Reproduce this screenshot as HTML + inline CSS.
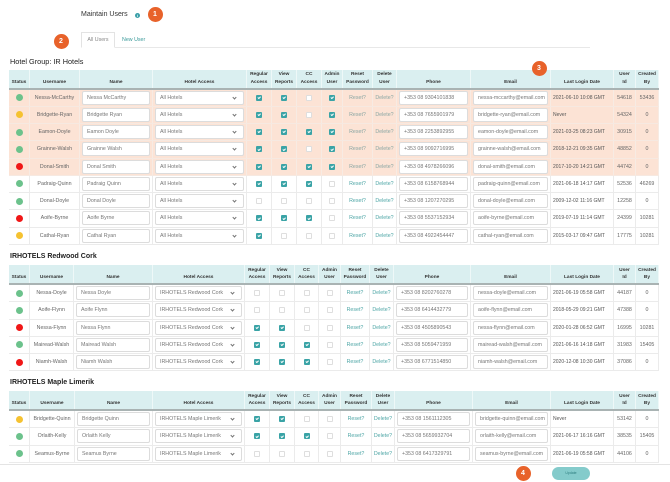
<!DOCTYPE html>
<html><head><meta charset="utf-8">
<style>
*{margin:0;padding:0}
body{width:670px;height:482px;position:relative;overflow:hidden;background:#fff;font-family:"Liberation Sans",sans-serif;}
.abs{position:absolute}
.title{position:absolute;font-size:7px;line-height:8px;color:#222;white-space:nowrap}
.oc{position:absolute;width:15px;height:15px;border-radius:50%;background:#e8622a;color:#fff;font-weight:bold;font-size:7px;display:flex;align-items:center;justify-content:center;z-index:5}
.tbl{position:absolute;left:9px;width:650px}
.h{display:flex;height:20px;background:#daeff0;border-bottom:2px solid #a9b3b3;box-sizing:border-box}
.h>div{flex:none;box-sizing:border-box;border-right:1px solid #eef8f8;display:flex;flex-direction:column;justify-content:flex-end;align-items:center;text-align:center;font-size:4.8px;font-weight:bold;color:#333;line-height:7.5px;padding-bottom:1.5px;white-space:nowrap}
.r{display:flex;height:17.25px;box-sizing:border-box;border-bottom:1px solid #ebebeb}
.r>div{flex:none;box-sizing:border-box;border-right:1px solid #ebebeb;display:flex;align-items:center;justify-content:center;font-size:5.3px;color:#666;overflow:hidden;white-space:nowrap}
.p{background:#fce3d5;border-bottom-color:#f6e9e1}
.p>div{border-right-color:#f7ebe3}
.r>div.l{justify-content:flex-start;padding-left:2px;font-size:5px;color:#555}
.r>div.lk{color:#4ea6a6}
.p>div.lk{color:#8aa6a3}
.in{display:flex;align-items:center;width:calc(100% - 4px);height:14px;background:#fff;border:1px solid #dcdcdc;border-radius:2px;box-sizing:border-box;padding-left:4px;color:#777;overflow:hidden;position:relative}
.sel::after{content:'';position:absolute;right:7px;top:4px;width:2px;height:2px;border:solid #777;border-width:0 0.7px 0.7px 0;transform:rotate(45deg)}
i{display:block}
.cb{width:6px;height:6px;border-radius:1px;box-sizing:border-box;border:1px solid #dedede;background:#fff}
.cb.c{background:#3aa3a6;border-color:#3aa3a6;position:relative}
.cb.c::after{content:'';position:absolute;left:1.2px;top:0.2px;width:1.4px;height:2.4px;border:solid #fff;border-width:0 0.7px 0.7px 0;transform:rotate(45deg)}
.dot{width:7px;height:7px;border-radius:50%}
.g{background:#6cc28c}.y{background:#f5c231}.rd{background:#f01717}
.t1>div>div:nth-child(1){width:21px}.t1>div>div:nth-child(2){width:50px}.t1>div>div:nth-child(3){width:73px}.t1>div>div:nth-child(4){width:94px}.t1>div>div:nth-child(5){width:25px}.t1>div>div:nth-child(6){width:25px}.t1>div>div:nth-child(7){width:25px}.t1>div>div:nth-child(8){width:21px}.t1>div>div:nth-child(9){width:30px}.t1>div>div:nth-child(10){width:24px}.t1>div>div:nth-child(11){width:74px}.t1>div>div:nth-child(12){width:80px}.t1>div>div:nth-child(13){width:63px}.t1>div>div:nth-child(14){width:22px}.t1>div>div:nth-child(15){width:23px}
.t2>div>div:nth-child(1){width:21px}.t2>div>div:nth-child(2){width:44px}.t2>div>div:nth-child(3){width:79px}.t2>div>div:nth-child(4){width:92px}.t2>div>div:nth-child(5){width:25px}.t2>div>div:nth-child(6){width:25px}.t2>div>div:nth-child(7){width:24px}.t2>div>div:nth-child(8){width:22px}.t2>div>div:nth-child(9){width:29px}.t2>div>div:nth-child(10){width:24px}.t2>div>div:nth-child(11){width:77px}.t2>div>div:nth-child(12){width:80px}.t2>div>div:nth-child(13){width:63px}.t2>div>div:nth-child(14){width:22px}.t2>div>div:nth-child(15){width:23px}
.t3>div>div:nth-child(1){width:21px}.t3>div>div:nth-child(2){width:45px}.t3>div>div:nth-child(3){width:78px}.t3>div>div:nth-child(4){width:92px}.t3>div>div:nth-child(5){width:25px}.t3>div>div:nth-child(6){width:25px}.t3>div>div:nth-child(7){width:24px}.t3>div>div:nth-child(8){width:22px}.t3>div>div:nth-child(9){width:31px}.t3>div>div:nth-child(10){width:23px}.t3>div>div:nth-child(11){width:78px}.t3>div>div:nth-child(12){width:78px}.t3>div>div:nth-child(13){width:63px}.t3>div>div:nth-child(14){width:22px}.t3>div>div:nth-child(15){width:23px}
</style></head><body>

<div class="title" style="left:81px;top:11px;color:#333">Maintain Users</div>
<div class="abs" style="left:134.5px;top:12.5px;width:5.5px;height:5.5px;border-radius:50%;background:#3a9fa8;color:#fff;font-size:4px;line-height:5.5px;text-align:center;font-weight:bold">i</div>
<div class="oc" style="left:147.5px;top:7px">1</div>
<div class="oc" style="left:53.5px;top:33.5px">2</div>
<div class="oc" style="left:531.5px;top:60.5px">3</div>
<div class="oc" style="left:515.5px;top:465.5px">4</div>

<div class="abs" style="left:81px;top:47px;width:509px;height:1px;background:#e8e8e8"></div>
<div class="abs" style="left:81px;top:32px;width:34px;height:16px;box-sizing:border-box;border:1px solid #e3e3e3;border-bottom:1px solid #fff;background:#fff;font-size:5.3px;color:#888;text-align:center;line-height:14px">All Users</div>
<div class="abs" style="left:122px;top:32px;font-size:5.3px;color:#3a9a9a;line-height:16px">New User</div>

<div class="title" style="left:10px;top:58px;font-size:7.3px">Hotel Group: IR Hotels</div>

<div class="tbl t1" style="top:69.5px">
<div class="h"><div>Status</div><div>Username</div><div>Name</div><div>Hotel Access</div><div>Regular<br>Access</div><div>View<br>Reports</div><div>CC<br>Access</div><div>Admin<br>User</div><div>Reset<br>Password</div><div>Delete<br>User</div><div>Phone</div><div>Email</div><div>Last Login Date</div><div>User<br>Id</div><div>Created<br>By</div></div>
<div class="r p"><div><i class="dot g"></i></div><div>Nessa-McCarthy</div><div><span class="in">Nessa McCarthy</span></div><div><span class="in sel">All Hotels</span></div><div><i class="cb c"></i></div><div><i class="cb c"></i></div><div><i class="cb"></i></div><div><i class="cb c"></i></div><div class="lk">Reset?</div><div class="lk">Delete?</div><div><span class="in">+353 08 9304101838</span></div><div><span class="in">nessa-mccarthy@email.com</span></div><div class="l">2021-06-10 10:08 GMT</div><div>54618</div><div>53436</div></div>
<div class="r p"><div><i class="dot y"></i></div><div>Bridgette-Ryan</div><div><span class="in">Bridgette Ryan</span></div><div><span class="in sel">All Hotels</span></div><div><i class="cb c"></i></div><div><i class="cb c"></i></div><div><i class="cb"></i></div><div><i class="cb c"></i></div><div class="lk">Reset?</div><div class="lk">Delete?</div><div><span class="in">+353 08 7655901979</span></div><div><span class="in">bridgette-ryan@email.com</span></div><div class="l">Never</div><div>54324</div><div>0</div></div>
<div class="r p"><div><i class="dot g"></i></div><div>Eamon-Doyle</div><div><span class="in">Eamon Doyle</span></div><div><span class="in sel">All Hotels</span></div><div><i class="cb c"></i></div><div><i class="cb c"></i></div><div><i class="cb c"></i></div><div><i class="cb c"></i></div><div class="lk">Reset?</div><div class="lk">Delete?</div><div><span class="in">+353 08 2253892955</span></div><div><span class="in">eamon-doyle@email.com</span></div><div class="l">2021-03-25 08:23 GMT</div><div>30915</div><div>0</div></div>
<div class="r p"><div><i class="dot g"></i></div><div>Grainne-Walsh</div><div><span class="in">Grainne Walsh</span></div><div><span class="in sel">All Hotels</span></div><div><i class="cb c"></i></div><div><i class="cb c"></i></div><div><i class="cb"></i></div><div><i class="cb c"></i></div><div class="lk">Reset?</div><div class="lk">Delete?</div><div><span class="in">+353 08 9092716995</span></div><div><span class="in">grainne-walsh@email.com</span></div><div class="l">2018-12-21 09:35 GMT</div><div>48852</div><div>0</div></div>
<div class="r p"><div><i class="dot rd"></i></div><div>Donal-Smith</div><div><span class="in">Donal Smith</span></div><div><span class="in sel">All Hotels</span></div><div><i class="cb c"></i></div><div><i class="cb c"></i></div><div><i class="cb c"></i></div><div><i class="cb c"></i></div><div class="lk">Reset?</div><div class="lk">Delete?</div><div><span class="in">+353 08 4978266096</span></div><div><span class="in">donal-smith@email.com</span></div><div class="l">2017-10-20 14:21 GMT</div><div>44742</div><div>0</div></div>
<div class="r"><div><i class="dot g"></i></div><div>Padraig-Quinn</div><div><span class="in">Padraig Quinn</span></div><div><span class="in sel">All Hotels</span></div><div><i class="cb c"></i></div><div><i class="cb c"></i></div><div><i class="cb c"></i></div><div><i class="cb"></i></div><div class="lk">Reset?</div><div class="lk">Delete?</div><div><span class="in">+353 08 6158768944</span></div><div><span class="in">padraig-quinn@email.com</span></div><div class="l">2021-06-18 14:17 GMT</div><div>52536</div><div>46269</div></div>
<div class="r"><div><i class="dot g"></i></div><div>Donal-Doyle</div><div><span class="in">Donal Doyle</span></div><div><span class="in sel">All Hotels</span></div><div><i class="cb"></i></div><div><i class="cb"></i></div><div><i class="cb"></i></div><div><i class="cb"></i></div><div class="lk">Reset?</div><div class="lk">Delete?</div><div><span class="in">+353 08 1207270295</span></div><div><span class="in">donal-doyle@email.com</span></div><div class="l">2009-12-02 11:16 GMT</div><div>12258</div><div>0</div></div>
<div class="r"><div><i class="dot rd"></i></div><div>Aoife-Byrne</div><div><span class="in">Aoife Byrne</span></div><div><span class="in sel">All Hotels</span></div><div><i class="cb c"></i></div><div><i class="cb c"></i></div><div><i class="cb c"></i></div><div><i class="cb"></i></div><div class="lk">Reset?</div><div class="lk">Delete?</div><div><span class="in">+353 08 5537152934</span></div><div><span class="in">aoife-byrne@email.com</span></div><div class="l">2019-07-19 11:14 GMT</div><div>24399</div><div>10281</div></div>
<div class="r"><div><i class="dot y"></i></div><div>Cathal-Ryan</div><div><span class="in">Cathal Ryan</span></div><div><span class="in sel">All Hotels</span></div><div><i class="cb c"></i></div><div><i class="cb"></i></div><div><i class="cb"></i></div><div><i class="cb"></i></div><div class="lk">Reset?</div><div class="lk">Delete?</div><div><span class="in">+353 08 4922454447</span></div><div><span class="in">cathal-ryan@email.com</span></div><div class="l">2015-03-17 09:47 GMT</div><div>17775</div><div>10281</div></div>
</div>

<div class="title" style="left:10px;top:253px;font-weight:bold">IRHOTELS Redwood Cork</div>
<div class="tbl t2" style="top:265px">
<div class="h"><div>Status</div><div>Username</div><div>Name</div><div>Hotel Access</div><div>Regular<br>Access</div><div>View<br>Reports</div><div>CC<br>Access</div><div>Admin<br>User</div><div>Reset<br>Password</div><div>Delete<br>User</div><div>Phone</div><div>Email</div><div>Last Login Date</div><div>User<br>Id</div><div>Created<br>By</div></div>
<div class="r"><div><i class="dot g"></i></div><div>Nessa-Doyle</div><div><span class="in">Nessa Doyle</span></div><div><span class="in sel">IRHOTELS Redwood Cork</span></div><div><i class="cb"></i></div><div><i class="cb"></i></div><div><i class="cb"></i></div><div><i class="cb"></i></div><div class="lk">Reset?</div><div class="lk">Delete?</div><div><span class="in">+353 08 8202760278</span></div><div><span class="in">nessa-doyle@email.com</span></div><div class="l">2021-06-19 05:58 GMT</div><div>44187</div><div>0</div></div>
<div class="r"><div><i class="dot g"></i></div><div>Aoife-Flynn</div><div><span class="in">Aoife Flynn</span></div><div><span class="in sel">IRHOTELS Redwood Cork</span></div><div><i class="cb"></i></div><div><i class="cb"></i></div><div><i class="cb"></i></div><div><i class="cb"></i></div><div class="lk">Reset?</div><div class="lk">Delete?</div><div><span class="in">+353 08 6414432779</span></div><div><span class="in">aoife-flynn@email.com</span></div><div class="l">2018-05-29 09:21 GMT</div><div>47388</div><div>0</div></div>
<div class="r"><div><i class="dot rd"></i></div><div>Nessa-Flynn</div><div><span class="in">Nessa Flynn</span></div><div><span class="in sel">IRHOTELS Redwood Cork</span></div><div><i class="cb c"></i></div><div><i class="cb c"></i></div><div><i class="cb"></i></div><div><i class="cb"></i></div><div class="lk">Reset?</div><div class="lk">Delete?</div><div><span class="in">+353 08 4505890543</span></div><div><span class="in">nessa-flynn@email.com</span></div><div class="l">2020-01-28 06:52 GMT</div><div>16995</div><div>10281</div></div>
<div class="r"><div><i class="dot g"></i></div><div>Mairead-Walsh</div><div><span class="in">Mairead Walsh</span></div><div><span class="in sel">IRHOTELS Redwood Cork</span></div><div><i class="cb c"></i></div><div><i class="cb c"></i></div><div><i class="cb c"></i></div><div><i class="cb"></i></div><div class="lk">Reset?</div><div class="lk">Delete?</div><div><span class="in">+353 08 5059471959</span></div><div><span class="in">mairead-walsh@email.com</span></div><div class="l">2021-06-16 14:18 GMT</div><div>31983</div><div>15405</div></div>
<div class="r"><div><i class="dot rd"></i></div><div>Niamh-Walsh</div><div><span class="in">Niamh Walsh</span></div><div><span class="in sel">IRHOTELS Redwood Cork</span></div><div><i class="cb c"></i></div><div><i class="cb c"></i></div><div><i class="cb c"></i></div><div><i class="cb"></i></div><div class="lk">Reset?</div><div class="lk">Delete?</div><div><span class="in">+353 08 6771514850</span></div><div><span class="in">niamh-walsh@email.com</span></div><div class="l">2020-12-08 10:30 GMT</div><div>37086</div><div>0</div></div>
</div>

<div class="title" style="left:10px;top:379px;font-weight:bold">IRHOTELS Maple Limerik</div>
<div class="tbl t3" style="top:391px">
<div class="h"><div>Status</div><div>Username</div><div>Name</div><div>Hotel Access</div><div>Regular<br>Access</div><div>View<br>Reports</div><div>CC<br>Access</div><div>Admin<br>User</div><div>Reset<br>Password</div><div>Delete<br>User</div><div>Phone</div><div>Email</div><div>Last Login Date</div><div>User<br>Id</div><div>Created<br>By</div></div>
<div class="r"><div><i class="dot y"></i></div><div>Bridgette-Quinn</div><div><span class="in">Bridgette Quinn</span></div><div><span class="in sel">IRHOTELS Maple Limerik</span></div><div><i class="cb c"></i></div><div><i class="cb c"></i></div><div><i class="cb"></i></div><div><i class="cb"></i></div><div class="lk">Reset?</div><div class="lk">Delete?</div><div><span class="in">+353 08 1561112305</span></div><div><span class="in">bridgette-quinn@email.com</span></div><div class="l">Never</div><div>53142</div><div>0</div></div>
<div class="r"><div><i class="dot g"></i></div><div>Orlaith-Kelly</div><div><span class="in">Orlaith Kelly</span></div><div><span class="in sel">IRHOTELS Maple Limerik</span></div><div><i class="cb c"></i></div><div><i class="cb c"></i></div><div><i class="cb c"></i></div><div><i class="cb"></i></div><div class="lk">Reset?</div><div class="lk">Delete?</div><div><span class="in">+353 08 5659932704</span></div><div><span class="in">orlaith-kelly@email.com</span></div><div class="l">2021-06-17 16:16 GMT</div><div>38535</div><div>15405</div></div>
<div class="r"><div><i class="dot g"></i></div><div>Seamus-Byrne</div><div><span class="in">Seamus Byrne</span></div><div><span class="in sel">IRHOTELS Maple Limerik</span></div><div><i class="cb"></i></div><div><i class="cb"></i></div><div><i class="cb"></i></div><div><i class="cb"></i></div><div class="lk">Reset?</div><div class="lk">Delete?</div><div><span class="in">+353 08 6417329791</span></div><div><span class="in">seamus-byrne@email.com</span></div><div class="l">2021-06-19 05:58 GMT</div><div>44106</div><div>0</div></div>
</div>

<div class="abs" style="left:0;top:464px;width:670px;height:1px;background:#e4e4e4"></div>
<div class="abs" style="left:552px;top:467px;width:38px;height:13px;border-radius:7px;background:#84cbcb;color:#2f7f80;font-size:3.5px;line-height:13px;text-align:center">Update</div>

</body></html>
